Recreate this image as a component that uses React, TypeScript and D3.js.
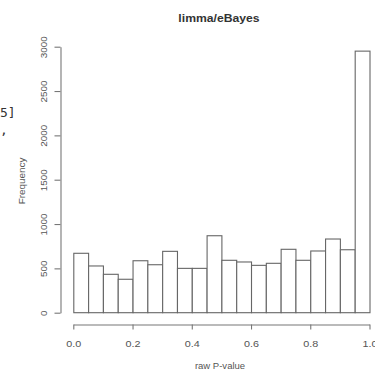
import React, { useRef, useEffect } from "react";
import * as d3 from "d3";

// histogram of raw p-values, 20 bins of width 0.05
const binStarts = [0, 0.05, 0.1, 0.15, 0.2, 0.25, 0.3, 0.35, 0.4, 0.45, 0.5, 0.55, 0.6, 0.65, 0.7, 0.75, 0.8, 0.85, 0.9, 0.95];
const counts = [670, 527, 433, 377, 586, 541, 692, 500, 500, 868, 591, 572, 534, 557, 715, 591, 696, 831, 710, 2950];
const binWidth = 0.05;
const xTicks = [0, 0.2, 0.4, 0.6, 0.8, 1.0];
const yTicks = [0, 500, 1000, 1500, 2000, 2500, 3000];

const App = () => {
  const svgRef = useRef<SVGSVGElement>(null);

  useEffect(() => {
    const svg = d3.select(svgRef.current);
    svg.selectAll("*").remove();

    const width = 375;
    const height = 372;
    const font = "'Liberation Sans', Arial, sans-serif";

    const x = d3.scaleLinear().domain([0, 1]).range([73.3, 369.5]);
    const y = d3.scaleLinear().domain([0, 3000]).range([312.7, 46.7]);

    svg.append("rect").attr("width", width).attr("height", height).attr("fill", "white");

    // stray text from the cropped screenshot
    svg
      .append("text")
      .attr("x", 0)
      .attr("y", 117)
      .attr("font-family", "'DejaVu Sans Mono', monospace")
      .attr("font-size", "13px")
      .attr("fill", "#333")
      .text("5]");
    svg
      .append("text")
      .attr("x", 0)
      .attr("y", 134)
      .attr("font-family", "'DejaVu Sans Mono', monospace")
      .attr("font-size", "13px")
      .attr("fill", "#333")
      .text(",");

    // bars
    svg
      .append("g")
      .selectAll("rect")
      .data(binStarts)
      .join("rect")
      .attr("x", (d) => x(d) + 0.5)
      .attr("y", (d, i) => y(counts[i]))
      .attr("width", (d) => x(d + binWidth) - x(d))
      .attr("height", (d, i) => y(0) - y(counts[i]))
      .attr("fill", "white")
      .attr("stroke", "#666")
      .attr("stroke-width", 1.1);

    // x axis
    const xAxis = svg
      .append("g")
      .attr("transform", "translate(0,324.5)")
      .call(d3.axisBottom(x).tickValues(xTicks).tickFormat(d3.format(".1f")).tickSize(5).tickSizeOuter(0));
    xAxis.select(".domain").attr("stroke", "#777").attr("stroke-width", 1.1);
    xAxis.selectAll(".tick line").attr("stroke", "#777").attr("stroke-width", 1.1);
    xAxis
      .selectAll(".tick text")
      .attr("font-family", font)
      .attr("font-size", "9px")
      .attr("fill", "#555")
      .attr("dy", "0")
      .attr("y", 0)
      .attr("transform", "translate(0,22) scale(1.2,1)");

    // y axis
    const yAxis = svg
      .append("g")
      .attr("transform", "translate(60.5,0)")
      .call(d3.axisLeft(y).tickValues(yTicks).tickFormat(d3.format("d")).tickSize(6).tickSizeOuter(0));
    yAxis.select(".domain").attr("stroke", "#777").attr("stroke-width", 1.1);
    yAxis.selectAll(".tick line").attr("stroke", "#777").attr("stroke-width", 1.1);
    yAxis
      .selectAll(".tick text")
      .attr("font-family", font)
      .attr("font-size", "9px")
      .attr("fill", "#555")
      .attr("x", 0)
      .attr("dy", "0")
      .attr("text-anchor", "middle")
      .attr("transform", "translate(-14,0) rotate(-90) scale(1.1,1)");

    // labels
    svg
      .append("text")
      .attr("transform", "translate(219,22) scale(1.22,1)")
      .attr("text-anchor", "middle")
      .attr("font-family", font)
      .attr("font-size", "10px")
      .attr("font-weight", "bold")
      .attr("fill", "#333")
      .text("limma/eBayes");

    svg
      .append("text")
      .attr("transform", "translate(220,369) scale(1.12,1)")
      .attr("text-anchor", "middle")
      .attr("font-family", font)
      .attr("font-size", "8.5px")
      .attr("fill", "#555")
      .text("raw P-value");

    svg
      .append("text")
      .attr("transform", "translate(24.5,181) rotate(-90) scale(1.1,1)")
      .attr("text-anchor", "middle")
      .attr("font-family", font)
      .attr("font-size", "9px")
      .attr("fill", "#555")
      .text("Frequency");
  }, []);

  return (
    <svg
      ref={svgRef}
      width={375}
      height={372}
      style={{ position: "absolute", left: 0, top: 0, display: "block" }}
    />
  );
};

export default App;
